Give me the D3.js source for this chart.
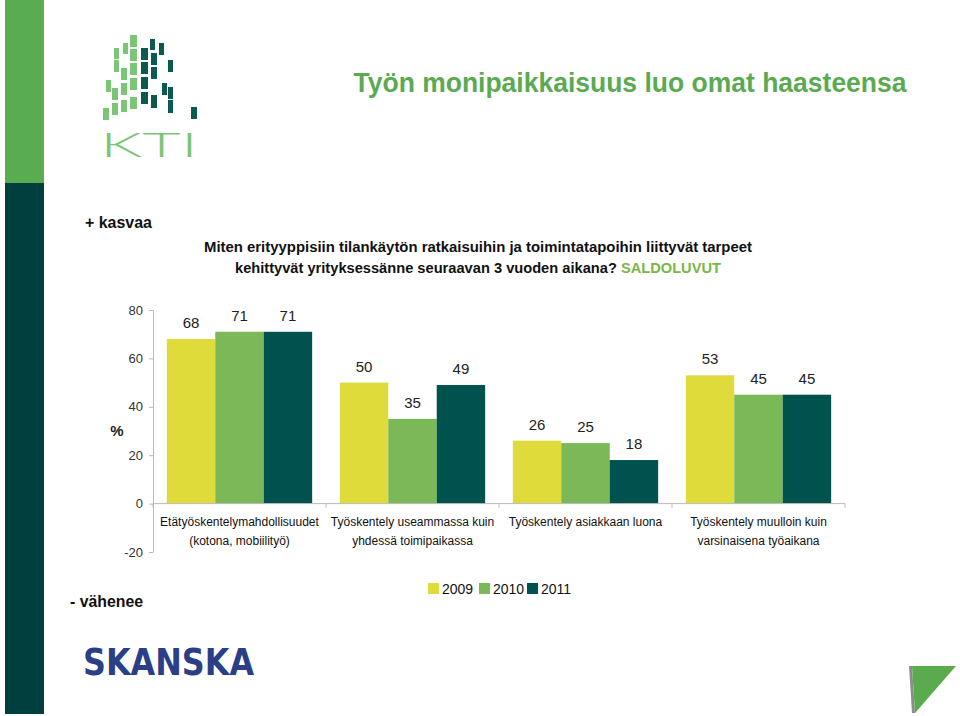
<!DOCTYPE html>
<html><head><meta charset="utf-8">
<script src="https://cdn.jsdelivr.net/npm/d3@7"></script>
<style>body{margin:0;background:#fff}svg{display:block}text{font-family:"Liberation Sans",Arial,sans-serif}</style>
</head><body>
<svg id="c" width="960" height="716"></svg>
<script>
// ---- data ----
const categories = [
  ["Etätyöskentelymahdollisuudet", "(kotona, mobiilityö)"],
  ["Työskentely useammassa kuin", "yhdessä toimipaikassa"],
  ["Työskentely asiakkaan luona", ""],
  ["Työskentely muulloin kuin", "varsinaisena työaikana"]
];
const seriesNames = ["2009", "2010", "2011"];
const values2009 = [68, 50, 26, 53];
const values2010 = [71, 35, 25, 45];
const values2011 = [71, 49, 18, 45];
const yTicks = [-20, 0, 20, 40, 60, 80];
const colors = ["#dedb3a", "#7bb857", "#00524f"];

const svg = d3.select("#c");

// ---- side bar & decorations ----
svg.append("rect").attr("x",5).attr("y",0).attr("width",39).attr("height",183).attr("fill","#5aac50");
svg.append("rect").attr("x",5).attr("y",183).attr("width",39).attr("height",531).attr("fill","#003f3d");

// KTI logo squares (decoration)
const logoLight = [[103,108,6,12],[106,80,5,12],[112,103,6,12],[112,88,6,12],[114,48,5,11],[114,60,5,12],
  [121,100,6,12],[121,83,6,12],[121,68,6,12],[123,43,5,11],[130,97,7,12],[130,78,7,12],[130,63,7,12],[130,49,7,12],[130,35,7,12]];
const logoDark = [[141,48,7,12],[141,62,7,12],[141,77,7,12],[141,92,7,12],[150,39,5,11],[151,53,6,12],[151,67,6,12],
  [151,95,6,13],[159,43,5,12],[162,83,5,12],[168,60,5,12],[168,87,5,12],[168,100,5,13],[191,107,6,12]];
const logo = svg.append("g");
logo.selectAll("rect.l").data(logoLight).join("rect").attr("class","l")
  .attr("x",d=>d[0]).attr("y",d=>d[1]).attr("width",d=>d[2]).attr("height",d=>d[3]).attr("fill","#7cc576");
logo.selectAll("rect.d").data(logoDark).join("rect").attr("class","d")
  .attr("x",d=>d[0]).attr("y",d=>d[1]).attr("width",d=>d[2]).attr("height",d=>d[3]).attr("fill","#0b5a50");
svg.append("text").attr("x",100).attr("y",157).attr("textLength",98).attr("lengthAdjust","spacingAndGlyphs")
  .style("font-family","Lato, Roboto, sans-serif").style("font-weight",300).style("font-size","34px")
  .attr("fill","#7cc576").text("KTI");

// Title
svg.append("text").attr("x",630).attr("y",92).attr("text-anchor","middle")
  .attr("textLength",553).attr("lengthAdjust","spacingAndGlyphs")
  .style("font-size","28px").style("font-weight","bold").attr("fill","#5baa52")
  .text("Työn monipaikkaisuus luo omat haasteensa");

svg.append("text").attr("x",85).attr("y",228).attr("textLength",67).attr("lengthAdjust","spacingAndGlyphs")
  .style("font-size","16px").style("font-weight","bold").attr("fill","#111").text("+ kasvaa");
svg.append("text").attr("x",70).attr("y",607).attr("textLength",73).attr("lengthAdjust","spacingAndGlyphs")
  .style("font-size","16px").style("font-weight","bold").attr("fill","#111").text("- vähenee");

// Question
svg.append("text").attr("x",478).attr("y",252).attr("text-anchor","middle")
  .attr("textLength",548).attr("lengthAdjust","spacingAndGlyphs")
  .style("font-size","14px").style("font-weight","bold").attr("fill","#111")
  .text("Miten erityyppisiin tilankäytön ratkaisuihin ja toimintatapoihin liittyvät tarpeet");
const q2 = svg.append("text").attr("x",478).attr("y",273).attr("text-anchor","middle")
  .attr("textLength",486).attr("lengthAdjust","spacingAndGlyphs")
  .style("font-size","14px").style("font-weight","bold").attr("fill","#111");
q2.append("tspan").text("kehittyvät yrityksessänne seuraavan 3 vuoden aikana? ");
q2.append("tspan").attr("fill","#7ab648").text("SALDOLUVUT");

// ---- chart ----
const x0 = d3.scaleBand().domain(d3.range(categories.length)).range([153,845]).paddingInner(0.16).paddingOuter(0.08);
const x1 = d3.scaleBand().domain(seriesNames).range([0, x0.bandwidth()]);
const y = d3.scaleLinear().domain([-20,80]).range([552,310]);

// y axis
const yAxis = svg.append("g").attr("transform","translate(153,0)")
  .call(d3.axisLeft(y).tickValues(yTicks).tickFormat(d=>String(d)).tickSize(4).tickPadding(6).tickSizeOuter(0));
yAxis.select(".domain").attr("stroke","#bbb");
yAxis.selectAll(".tick line").attr("stroke","#bbb");
yAxis.selectAll(".tick text").style("font-size","13px").style("font-family","Liberation Sans, Arial, sans-serif").attr("fill","#333");

svg.append("text").attr("x",117).attr("y",436).attr("text-anchor","middle")
  .style("font-size","15px").style("font-weight","bold").attr("fill","#222").text("%");

// bars
const allVals = [values2009, values2010, values2011];
const rows = [];
categories.forEach((c,i)=>seriesNames.forEach((s,j)=>rows.push({i, s, j, v: allVals[j][i]})));
svg.append("g").selectAll("rect").data(rows).join("rect")
  .attr("x",d=>x0(d.i)+x1(d.s)).attr("width",x1.bandwidth())
  .attr("y",d=>y(Math.max(0,d.v))).attr("height",d=>Math.abs(y(d.v)-y(0)))
  .attr("fill",d=>colors[d.j]);
svg.append("g").selectAll("text").data(rows).join("text")
  .attr("x",d=>x0(d.i)+x1(d.s)+x1.bandwidth()/2).attr("y",d=>y(d.v)-11)
  .attr("text-anchor","middle").style("font-size","15px").attr("fill","#222").text(d=>d.v);

// x axis line at 0
const step = x0.step();
svg.append("line").attr("x1",153).attr("x2",845).attr("y1",y(0)).attr("y2",y(0)).attr("stroke","#bbb");
svg.append("g").selectAll("line").data(d3.range(categories.length+1)).join("line")
  .attr("x1",d=>153+d*step).attr("x2",d=>153+d*step).attr("y1",y(0)).attr("y2",y(0)+4).attr("stroke","#bbb");

// category labels
const cl = svg.append("g").selectAll("text").data(categories).join("text")
  .attr("text-anchor","middle").style("font-size","12px").attr("fill","#111");
cl.each(function(d,i){
  const t = d3.select(this);
  d.forEach((line,k)=>{ if(line) t.append("tspan").attr("x",x0(i)+x0.bandwidth()/2).attr("y",y(0)+22+k*19).text(line); });
});

// legend
const legX = [428, 479, 527];
const lg = svg.append("g").selectAll("g").data(seriesNames).join("g")
  .attr("transform",(d,i)=>`translate(${legX[i]},583)`);
lg.append("rect").attr("width",11).attr("height",11).attr("fill",(d,i)=>colors[i]);
lg.append("text").attr("x",14).attr("y",11).style("font-size","14px").attr("fill","#111").text(d=>d);

// SKANSKA
svg.append("text").attr("x",83).attr("y",675).attr("textLength",171).attr("lengthAdjust","spacingAndGlyphs")
  .style("font-family","DejaVu Sans, sans-serif").style("font-weight","bold").style("font-size","37px")
  .attr("fill","#2b3f86").text("SKANSKA");

// bottom-right triangle
svg.append("polygon").attr("points","909,666 912,666 915,713 912,713").attr("fill","#8a8f8a");
svg.append("polygon").attr("points","912,666 956,666 915,713").attr("fill","#5aab4d");
</script>
</body></html>
